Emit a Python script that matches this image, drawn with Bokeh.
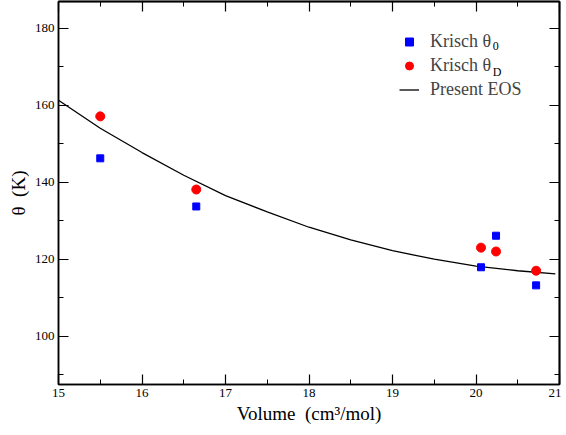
from bokeh.plotting import figure
from bokeh.models import (LinearAxis, SingleIntervalTicker, FixedTicker, Legend,
                          LegendItem, Label, Range1d)
from bokeh.embed import file_html
from bokeh.resources import INLINE

# Data
vol_theta0 = [15.5, 16.65, 20.06, 20.24, 20.72]
theta0 = [146.2, 133.7, 117.9, 126.1, 113.2]
vol_thetaD = [15.5, 16.65, 20.06, 20.24, 20.72]
thetaD = [157.1, 138.1, 123.0, 122.0, 117.0]
eos_vol = [15.0, 15.5, 16.0, 16.5, 17.0, 17.5, 18.0, 18.5, 19.0, 19.5, 20.0, 20.5, 20.95]
eos_theta = [161.3, 154.0, 147.7, 141.8, 136.5, 132.3, 128.3, 125.0, 122.2, 120.0, 118.2, 117.0, 116.2]

# Tick positions (for the mirrored, unlabelled top/right ticks)
x_major_ticks = [15, 16, 17, 18, 19, 20, 21]
x_minor_ticks = [15.5, 16.5, 17.5, 18.5, 19.5, 20.5]
y_major_ticks = [100, 120, 140, 160, 180]
y_minor_ticks = [90, 110, 130, 150, 170]

FONT = "Liberation Serif"

p = figure(frame_width=501, frame_height=383,
           x_range=Range1d(15, 21), y_range=Range1d(87.45, 186.94),
           output_backend="svg", toolbar_location=None,
           min_border_left=58, min_border_right=2, min_border_top=1, min_border_bottom=0,
           x_axis_label="Volume\u00a0 (cm³/mol)", y_axis_label="θ\u00a0 (K)")
p.xgrid.visible = False
p.ygrid.visible = False
p.outline_line_color = "black"
p.outline_line_width = 1.5
p.background_fill_color = "white"
p.border_fill_color = "white"


def base_style(ax):
    ax.axis_line_color = "black"
    ax.axis_line_width = 1.5
    ax.major_tick_in = 10
    ax.major_tick_out = 0
    ax.minor_tick_in = 5
    ax.minor_tick_out = 0
    ax.major_tick_line_color = "black"
    ax.minor_tick_line_color = "black"
    ax.major_tick_line_width = 1.2
    ax.minor_tick_line_width = 1.0


for ax in (p.xaxis[0], p.yaxis[0]):
    base_style(ax)
    ax.major_label_text_font = FONT
    ax.major_label_text_font_size = "13px"
    ax.major_label_text_color = "black"
    ax.major_label_standoff = 4
    ax.axis_label_text_font = FONT
    ax.axis_label_text_font_size = "19px"
    ax.axis_label_text_font_style = "normal"
    ax.axis_label_text_color = "black"
    ax.axis_label_standoff = 3

p.xaxis[0].ticker = SingleIntervalTicker(interval=1, num_minor_ticks=2)
p.yaxis[0].ticker = SingleIntervalTicker(interval=20, num_minor_ticks=2)


def mirror_axis(major, minor, side):
    # ticks only, no labels: all ticks given as "minor" ticks of a FixedTicker
    a1 = LinearAxis(ticker=FixedTicker(ticks=[], minor_ticks=major))
    a2 = LinearAxis(ticker=FixedTicker(ticks=[], minor_ticks=minor))
    for a, ln in ((a1, 10), (a2, 5)):
        base_style(a)
        a.minor_tick_in = ln
        a.minor_tick_line_width = 1.2 if ln == 10 else 1.0
        a.major_label_standoff = 0
        a.axis_label = None
        a.axis_label_standoff = 0
        p.add_layout(a, side)


mirror_axis(x_major_ticks, x_minor_ticks, "above")
mirror_axis(y_major_ticks, y_minor_ticks, "right")

line_r = p.line(eos_vol, eos_theta, line_color="black", line_width=1.3)
sq_r = p.scatter(vol_theta0, theta0, marker="square", size=7,
                 fill_color="#0000ff", line_color="#0000ff")
ci_r = p.scatter(vol_thetaD, thetaD, marker="circle", size=9,
                 fill_color="#ff0000", line_color="#ff0000")

legend = Legend(items=[LegendItem(label="Krisch θ", renderers=[sq_r]),
                       LegendItem(label="Krisch θ", renderers=[ci_r]),
                       LegendItem(label="Present EOS", renderers=[line_r])],
                location=(341, 284), padding=0, margin=0, spacing=3,
                glyph_width=20, glyph_height=21, label_height=21, label_standoff=11,
                label_text_font=FONT, label_text_font_size="18px",
                border_line_color=None, background_fill_alpha=0)
p.add_layout(legend, "center")

p.add_layout(Label(x=20.2, y=175.3, text="0", text_font=FONT, text_font_size="12px",
                   text_baseline="middle", text_color="black"))
p.add_layout(Label(x=20.2, y=168.75, text="D", text_font=FONT, text_font_size="12px",
                   text_baseline="middle", text_color="black"))

open("out.html", "w").write(file_html(p, INLINE))
